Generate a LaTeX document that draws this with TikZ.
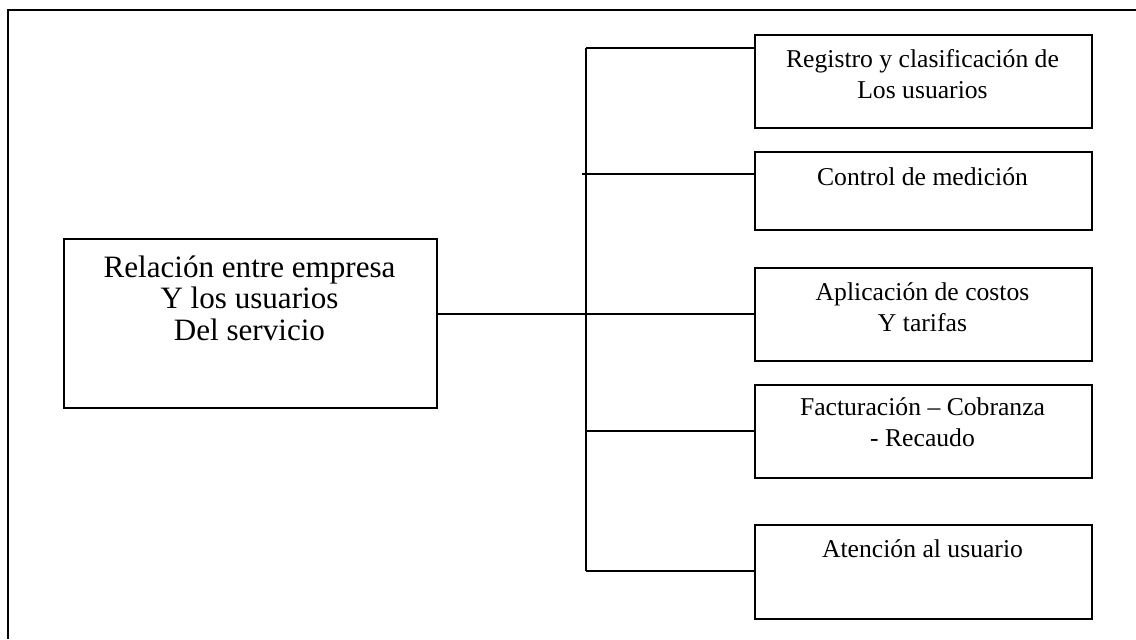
\documentclass[tikz,border=0pt]{standalone}
\usepackage{fontspec}
\setmainfont{Liberation Serif}
\usetikzlibrary{positioning}

\tikzset{
    frame/.style={line width=1.2pt},
    box/.style={draw, line width=1pt, inner sep=0pt, anchor=north west, minimum width=6.74cm},
    mainbox/.style={draw, line width=1pt, inner sep=0pt, anchor=north west, minimum width=7.46cm, minimum height=3.38cm},
    link/.style={line width=1pt},
    boxtext/.style={align=center, anchor=base, inner sep=0pt, font=\fontsize{14.6}{17.6}\selectfont},
    maintext/.style={align=center, anchor=base, inner sep=0pt, font=\fontsize{17.7}{17.8}\selectfont}
}

\begin{document}
\begin{tikzpicture}[x=0.02cm, y=-0.02cm]
        \useasboundingbox (0,0) rectangle (1136,639);

        % Draw the outer frame
        \draw[frame] (1136,10) -| (8,639);

        % Draw the boxes
        \node[mainbox] (main) at (63,238) {};
        \node[box, minimum height=1.86cm] (reg) at (754,34) {};
        \node[box, minimum height=1.56cm] (med) at (754,151) {};
        \node[box, minimum height=1.86cm] (cos) at (754,267) {};
        \node[box, minimum height=1.86cm] (fac) at (754,384) {};
        \node[box, minimum height=1.88cm] (ate) at (754,524) {};

        % Add labels inside each box (base = last line)
        \node[maintext] (mainlbl) at (249.5,340) {Relación entre empresa\\Y los usuarios\\Del servicio};
        \node[boxtext] (reglbl) at (922.5,98) {Registro y clasificación de\\Los usuarios};
        \node[boxtext] (medlbl) at (922.5,185) {Control de medición};
        \node[boxtext] (coslbl) at (922.5,331) {Aplicación de costos\\Y tarifas};
        \node[boxtext] (faclbl) at (922.5,446) {Facturación – Cobranza\\- Recaudo};
        \node[boxtext] (atelbl) at (922.5,557) {Atención al usuario};

        % Draw the connectors
        \coordinate (jreg) at (586,48);
        \coordinate (jmed) at (586,174);
        \coordinate (jcos) at (586,314);
        \coordinate (jfac) at (586,431);
        \coordinate (jate) at (586,571);

        \draw[link] (jreg) -- (jate);
        \draw[link] (main.east |- jcos) -- (jcos -| cos.west);
        \draw[link] (jreg) -- (jreg -| reg.west);
        \draw[link] ([xshift=-2]jmed) -- (jmed -| med.west);
        \draw[link] (jfac) -- (jfac -| fac.west);
        \draw[link] (jate) -- (jate -| ate.west);

    \end{tikzpicture}
\end{document}
